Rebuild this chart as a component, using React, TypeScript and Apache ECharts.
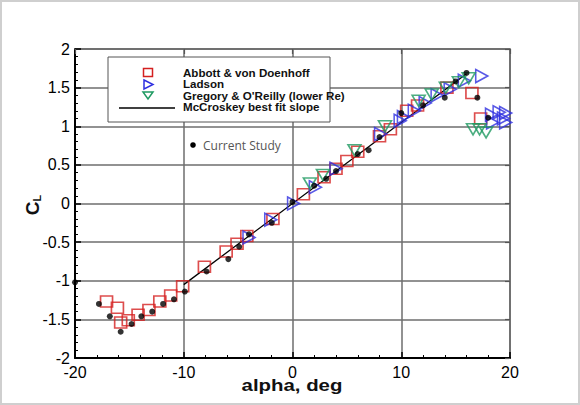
import React, { useEffect, useRef } from "react";
import * as echarts from "echarts";

// ---- Data ----
const currentAlpha = [-20, -17.8, -16.8, -15.8, -14.8, -13.9, -12.9, -11.9, -10.9, -9.9, -7.9, -5.9, -4.9, -4.0, -1.9, 0, 2, 3.1, 4, 6, 7, 8, 10, 12, 14, 15, 16, 17, 18];
const currentCL = [-1.02, -1.3, -1.46, -1.66, -1.56, -1.46, -1.4, -1.3, -1.24, -1.14, -0.88, -0.72, -0.56, -0.4, -0.25, 0.02, 0.23, 0.32, 0.42, 0.64, 0.69, 0.86, 1.17, 1.27, 1.37, 1.58, 1.69, 1.37, 1.11];

const abbottAlpha = [-17.1, -16.1, -15.8, -15.1, -14.2, -13.2, -12.2, -11.2, -10.1, -8.1, -6.1, -5.1, -4.2, -1.8, 1.0, 2.9, 4.0, 5.0, 6.0, 8.0, 9.0, 10.5, 11.5, 14.2, 16.5, 17.3];
const abbottCL = [-1.27, -1.35, -1.54, -1.51, -1.44, -1.38, -1.27, -1.19, -1.07, -0.82, -0.62, -0.52, -0.42, -0.2, 0.12, 0.34, 0.45, 0.55, 0.67, 0.87, 0.96, 1.2, 1.27, 1.5, 1.43, 1.1];

const ladsonAlpha = [-4.0, -2.0, 0.1, 2.1, 4.0, 8.1, 9.9, 10.2, 11.2, 12.2, 13.3, 14.5, 15.8, 17.4, 18.3, 19.0, 19.6, 18.4, 19.4, 19.6];
const ladsonCL = [-0.44, -0.21, 0.0, 0.21, 0.45, 0.9, 1.07, 1.12, 1.2, 1.3, 1.4, 1.48, 1.59, 1.65, 1.15, 1.18, 1.17, 1.05, 1.1, 1.05];

const gregoryAlpha = [1.6, 2.8, 5.7, 8.5, 11.6, 12.8, 14.1, 15.3, 16.2, 16.6, 17.2, 17.8];
const gregoryCL = [0.26, 0.37, 0.69, 1.0, 1.33, 1.41, 1.5, 1.57, 1.62, 0.96, 0.96, 0.92];

const mccroskeyAlpha = [-10, 16];
const mccroskeyCL = [-1.05, 1.68];

const xTicks = { min: -20, max: 20, interval: 10 };
const yTicks = { min: -2, max: 2, interval: 0.5 };

const legendNames = [
  "Abbott & von Doenhoff",
  "Ladson",
  "Gregory & O'Reilly (lower Re)",
  "McCroskey best fit slope",
];
const currentLabel = "Current Study";
const xTitle = "alpha, deg";

const zip = (a: number[], b: number[]) => a.map((v, i) => [v, b[i]]);

const RED = "#d42020";
const BLUE = "#2f2fe0";
const GREEN = "#1f9a62";
const FONT = "'Liberation Sans', Arial, sans-serif";

const RIGHT_TRI = "path://M0,0L10,5L0,10Z";
const DOWN_TRI = "path://M0,0L10,0L5,9Z";

export default function App() {
  const ref = useRef<HTMLDivElement>(null);

  useEffect(() => {
    document.body.style.margin = "0";
    if (!ref.current) return;
    const chart = echarts.init(ref.current, null, { renderer: "svg" });

    const axisCommon = {
      type: "value" as const,
      axisLine: { show: true, onZero: false, lineStyle: { color: "#000", width: 2 } },
      axisTick: { show: true, inside: true, length: 6, lineStyle: { color: "#000", width: 1.5 } },
      minorTick: { show: true, splitNumber: 5, length: 3, lineStyle: { color: "#000", width: 1 } },
      minorSplitLine: { show: false },
    };
    const frameCommon = {
      type: "value" as const,
      axisLine: { show: true, onZero: false, lineStyle: { color: "#666", width: 1.5 } },
      axisTick: { show: true, inside: true, length: 5, lineStyle: { color: "#555", width: 1.2 } },
      minorTick: { show: false },
      axisLabel: { show: false },
      splitLine: { show: false },
    };

    const legendX = 183;
    const legendRows = [73, 84, 96, 107];

    chart.setOption({
      animation: false,
      backgroundColor: "#fff",
      grid: { left: 75, right: 70, top: 49, bottom: 47, containLabel: false },
      xAxis: [
        {
          ...axisCommon,
          ...xTicks,
          position: "bottom",
          splitLine: { show: true, lineStyle: { color: "#6e6e6e", width: 1.5 } },
          axisLabel: { color: "#000", fontSize: 16, fontFamily: FONT, margin: 7, lineHeight: 14 },
        },
        { ...frameCommon, ...xTicks, position: "top" },
      ],
      yAxis: [
        {
          ...axisCommon,
          ...yTicks,
          position: "left",
          splitLine: { show: true, lineStyle: { color: "#6e6e6e", width: 1.5 } },
          axisLabel: {
            color: "#000",
            fontSize: 16,
            fontFamily: FONT,
            margin: 5,
            lineHeight: 13,
            padding: [0, 0, 4, 0],
          },
        },
        { ...frameCommon, ...yTicks, position: "right" },
      ],
      series: [
        {
          type: "line",
          name: legendNames[3],
          data: zip(mccroskeyAlpha, mccroskeyCL),
          symbol: "none",
          lineStyle: { color: "#000", width: 1.3 },
          z: 2,
        },
        {
          type: "scatter",
          name: legendNames[0],
          data: zip(abbottAlpha, abbottCL),
          symbol: "rect",
          symbolSize: [12, 11],
          itemStyle: { color: "rgba(0,0,0,0)", borderColor: RED, borderWidth: 1.6 },
          z: 3,
        },
        {
          type: "scatter",
          name: legendNames[1],
          data: zip(ladsonAlpha, ladsonCL),
          symbol: RIGHT_TRI,
          symbolSize: [12, 13],
          itemStyle: { color: "rgba(0,0,0,0)", borderColor: BLUE, borderWidth: 1.6 },
          z: 3,
        },
        {
          type: "scatter",
          name: legendNames[2],
          data: zip(gregoryAlpha, gregoryCL),
          symbol: DOWN_TRI,
          symbolSize: [13, 11],
          itemStyle: { color: "rgba(0,0,0,0)", borderColor: GREEN, borderWidth: 1.6 },
          z: 3,
        },
        {
          type: "scatter",
          name: currentLabel,
          data: zip(currentAlpha, currentCL),
          symbol: "circle",
          symbolSize: 6,
          itemStyle: { color: "#000" },
          z: 4,
        },
      ],
      graphic: [
        {
          type: "rect",
          shape: { x: 1, y: 1, width: 578, height: 403 },
          style: { fill: "none", stroke: "#cfcfcf", lineWidth: 2 },
          z: 100,
        },
        {
          type: "rect",
          shape: { x: 108, y: 57, width: 222, height: 65 },
          style: { fill: "#fff", stroke: "#555", lineWidth: 1 },
          z: 50,
        },
        {
          type: "rect",
          shape: { x: 143.5, y: 68.5, width: 9, height: 8 },
          style: { fill: "none", stroke: RED, lineWidth: 1.5 },
          z: 51,
        },
        {
          type: "polygon",
          shape: { points: [[144, 80], [153, 84.5], [144, 89]] },
          style: { fill: "none", stroke: BLUE, lineWidth: 1.5 },
          z: 51,
        },
        {
          type: "polygon",
          shape: { points: [[143, 92], [153, 92], [148, 99]] },
          style: { fill: "none", stroke: GREEN, lineWidth: 1.5 },
          z: 51,
        },
        {
          type: "line",
          shape: { x1: 119, y1: 108, x2: 175, y2: 108 },
          style: { stroke: "#000", lineWidth: 1.5 },
          z: 51,
        },
        ...legendNames.map((name, i) => ({
          type: "text",
          x: legendX,
          y: legendRows[i],
          scaleX: 1.16,
          style: {
            text: name,
            fill: "#111",
            font: `bold 10px ${FONT}`,
            verticalAlign: "middle",
            align: "left",
          },
          z: 52,
        })),
        {
          type: "circle",
          shape: { cx: 193, cy: 145, r: 2.8 },
          style: { fill: "#000" },
          z: 52,
        },
        {
          type: "text",
          x: 203,
          y: 145,
          style: {
            text: currentLabel,
            fill: "#555",
            font: "12px 'Open Sans', sans-serif",
            verticalAlign: "middle",
            align: "left",
          },
          z: 52,
        },
        {
          type: "text",
          x: 292,
          y: 385,
          scaleX: 1.2,
          style: {
            text: xTitle,
            fill: "#111",
            font: `bold 17px ${FONT}`,
            verticalAlign: "middle",
            align: "center",
          },
          z: 52,
        },
        {
          type: "text",
          x: 32,
          y: 205,
          rotation: Math.PI / 2,
          style: {
            text: "{c|C}{l|L}",
            fill: "#111",
            verticalAlign: "middle",
            align: "center",
            rich: {
              c: { font: `bold 19px ${FONT}`, fill: "#111" },
              l: { font: `bold 11px ${FONT}`, fill: "#111", padding: [10, 0, 0, 0] },
            },
          },
          z: 52,
        },
      ],
    });

    return () => chart.dispose();
  }, []);

  return <div ref={ref} style={{ width: 580, height: 405 }} />;
}
